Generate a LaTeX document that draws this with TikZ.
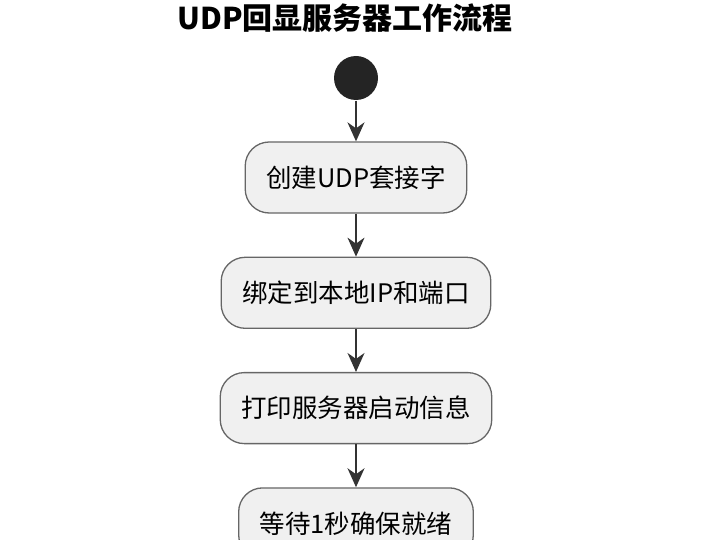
\documentclass[tikz,border=0pt]{standalone}
\usepackage{fontspec}
\setmainfont{Noto Sans CJK SC}
\usetikzlibrary{arrows.meta,positioning}

\begin{document}
\begin{tikzpicture}[
  x=1pt, y=-1pt,
  font=\fontsize{25.5}{30}\selectfont,
  >={Stealth[length=19pt,width=17pt,inset=6pt]},
  line width=1.3pt,
  actbox/.style={draw=black!60, fill=black!6, rounded corners=24pt,
    minimum height=71pt, inner xsep=21pt},
  flow/.style={->, draw=black!80, line width=1.5pt}
]
\useasboundingbox (0,0) rectangle (720,540);

% title and start
\node[font=\fontsize{30}{36}\selectfont\bfseries] (title) at (345,18) {UDP回显服务器工作流程};
\node[circle, fill=black!86, minimum size=44pt, inner sep=0pt] (start) at (356,78) {};

% steps
\node[actbox] (create) at (356,177.5) {创建UDP套接字};
\node[actbox, below=43pt of create] (bind) {绑定到本地IP和端口};
\node[actbox, below=43pt of bind] (info) {打印服务器启动信息};
\node[actbox, below=43pt of info] (wait) {等待1秒确保就绪};

\draw[flow] (start) -- (create);
\draw[flow] (create) -- (bind);
\draw[flow] (bind) -- (info);
\draw[flow] (info) -- (wait);

\end{tikzpicture}
\end{document}
